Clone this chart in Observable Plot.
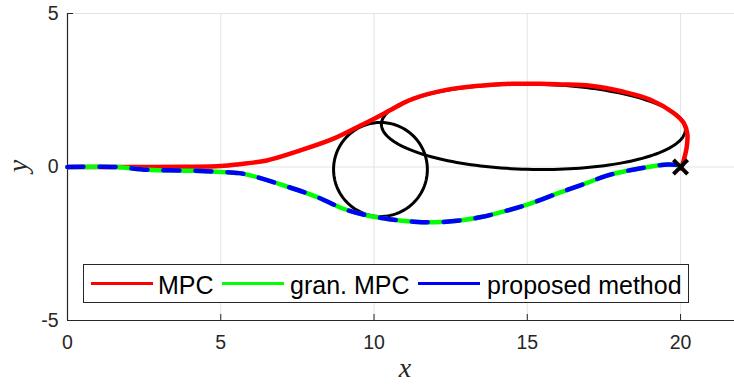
<!DOCTYPE html>
<html><head><meta charset="utf-8">
<script src="https://cdn.jsdelivr.net/npm/d3@7"></script>
<script src="https://cdn.jsdelivr.net/npm/@observablehq/plot@0.6"></script>
<style>
html,body{margin:0;padding:0;background:#fff;}
#wrap{position:relative;width:734px;height:385px;font-family:"Liberation Sans",Arial,sans-serif;overflow:hidden;}
#wrap svg{position:absolute;left:0;top:0;}
.abs{position:absolute;white-space:nowrap;}
#legbox{left:83px;top:264px;width:604px;height:37px;border:1.3px solid #262626;background:#fff;}
.legline{height:3.5px;top:281.5px;}
.legtext{font-size:25px;line-height:25px;top:273px;color:#000;}
.axlab{font-family:"Liberation Serif","DejaVu Serif",serif;font-style:italic;font-size:28px;line-height:20px;color:#262626;}
</style></head>
<body>
<div id="wrap"></div>
<script>
// ---- data ----
const xTicks = [0, 5, 10, 15, 20];
const yTicks = [-5, 0, 5];
const seriesNames = ["MPC", "gran. MPC", "proposed method"];
const seriesColors = ["#ff0000", "#00ff00", "#0000ff"];

const mpcX = [0, 2, 4, 5, 5.6, 6.5, 7.6, 8.7, 9.56, 10.21, 10.86, 11.29, 12.4, 13.47, 14.5, 15.43, 16.1, 17.06, 18.14, 19.02, 19.77, 20.1, 20.22, 20.2, 20.1, 20.02];
const mpcY = [0, 0, 0.005, 0.03, 0.09, 0.21, 0.54, 0.93, 1.35, 1.68, 2.03, 2.23, 2.52, 2.65, 2.71, 2.71, 2.69, 2.65, 2.45, 2.19, 1.76, 1.44, 1.09, 0.64, 0.21, -0.05];

const granX = [0, 1.6, 2.6, 4.1, 5, 5.6, 6, 7.05, 8.15, 9.0, 9.78, 10.5, 11.3, 12.0, 12.8, 13.5, 14.3, 15.1, 16.1, 17.0, 17.6, 18.7, 19.6, 20.0];
const granY = [0, 0, -0.09, -0.12, -0.16, -0.2, -0.28, -0.6, -0.98, -1.36, -1.58, -1.7, -1.78, -1.8, -1.74, -1.63, -1.43, -1.19, -0.82, -0.5, -0.28, -0.04, 0.08, 0.05];
const propX = granX.slice();
const propY = granY.slice();

// obstacles: [centerX, centerY, semiAxisX, semiAxisY, rotationDeg]
const circleObs = [10.21, -0.08, 1.53, 1.53, 0];
const ellipseObs = [15.2, 1.31, 4.96, 1.39, -1];
const goal = [{x: 20, y: 0}];

// ---- build tables ----
const toPts = (xs, ys) => xs.map((x, i) => ({x, y: ys[i]}));
const shape = ([cx, cy, ax, ay, rot]) => {
  const r = rot * Math.PI / 180;
  return d3.range(0, 361, 2).map(t => {
    const a = t * Math.PI / 180, ex = ax * Math.cos(a), ey = ay * Math.sin(a);
    return {x: cx + ex * Math.cos(r) - ey * Math.sin(r), y: cy + ex * Math.sin(r) + ey * Math.cos(r)};
  });
};

const gridCol = "#e3e3e3", axisCol = "#262626";
const fmt = d => d < 0 ? "-" + Math.abs(d) : String(d);
const plot = Plot.plot({
  width: 734, height: 385,
  marginLeft: 67, marginRight: 0, marginTop: 13, marginBottom: 65,
  x: {domain: [0, 21.76], ticks: xTicks, tickSize: 0, tickPadding: 15, label: null, tickFormat: fmt},
  y: {domain: [-5, 5], ticks: yTicks, tickSize: 0, tickPadding: 9, label: null, tickFormat: fmt},
  style: {fontSize: "19.5px", fontFamily: "'Liberation Sans', Arial, sans-serif", color: axisCol, background: "transparent"},
  marks: [
    Plot.ruleX(xTicks.filter(d => d !== 0), {stroke: gridCol, strokeWidth: 1}),
    Plot.ruleY(yTicks.filter(d => d !== -5), {stroke: gridCol, strokeWidth: 1}),
    Plot.ruleX(xTicks.filter(d => d !== 0), {y1: -5, y2: 5, stroke: axisCol, strokeWidth: 1, strokeDasharray: "6,2000"}),
    Plot.ruleY(yTicks.filter(d => d !== -5), {x1: 0, x2: 21.76, stroke: axisCol, strokeWidth: 1, strokeDasharray: "6,2000"}),
    Plot.ruleX([0], {stroke: axisCol, strokeWidth: 1.2}),
    Plot.ruleY([-5], {stroke: axisCol, strokeWidth: 1.2}),
    Plot.line(shape(circleObs), {x: "x", y: "y", stroke: "#000", strokeWidth: 3, curve: "linear"}),
    Plot.line(shape(ellipseObs), {x: "x", y: "y", stroke: "#000", strokeWidth: 3, curve: "linear"}),
    Plot.line(toPts(mpcX, mpcY), {x: "x", y: "y", stroke: seriesColors[0], strokeWidth: 4.5, curve: "catmull-rom"}),
    Plot.line(toPts(granX, granY), {x: "x", y: "y", stroke: seriesColors[1], strokeWidth: 4.5, curve: "catmull-rom"}),
    Plot.line(toPts(propX, propY), {x: "x", y: "y", stroke: seriesColors[2], strokeWidth: 4.5, curve: "catmull-rom", strokeDasharray: "16,16"}),
    Plot.dot(goal, {x: "x", y: "y", symbol: "times", r: 6.5, stroke: "#000", strokeWidth: 4})
  ]
});
const wrap = document.getElementById("wrap");
wrap.appendChild(plot);

// legend
function add(cls, style, text) {
  const d = document.createElement("div");
  d.className = "abs " + cls;
  Object.assign(d.style, style);
  if (text != null) d.textContent = text;
  wrap.appendChild(d);
}
const box = document.createElement("div"); box.className = "abs"; box.id = "legbox"; wrap.appendChild(box);
const lineLeft = [91, 222, 418], textLeft = [158, 290, 487];
seriesNames.forEach((n, i) => {
  add("legline", {left: lineLeft[i] + "px", width: "62px", background: seriesColors[i]});
  add("legtext", {left: textLeft[i] + "px"}, n);
});
// axis labels
add("axlab", {left: "395px", top: "358px", width: "20px", textAlign: "center"}, "x");
add("axlab", {left: "6px", top: "156px", width: "24px", textAlign: "center", transform: "rotate(-90deg)"}, "y");
</script>
</body></html>
